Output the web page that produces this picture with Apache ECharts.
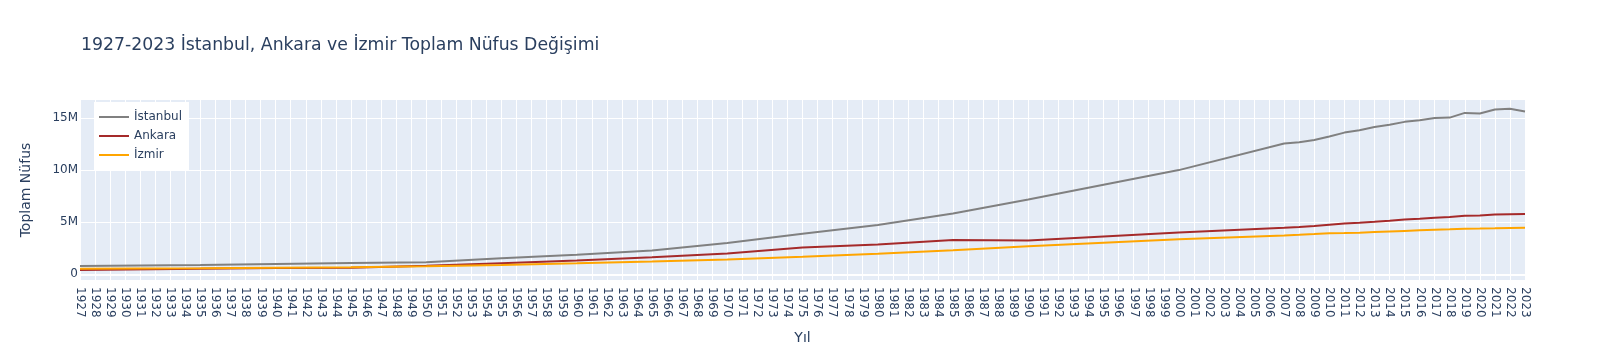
<!DOCTYPE html>
<html>
<head>
<meta charset="utf-8">
<script src="https://cdn.jsdelivr.net/npm/echarts@6/dist/echarts.min.js"></script>
<style>html,body{margin:0;padding:0;background:#fff}#c{width:1605px;height:360px}</style>
</head>
<body>
<div id="c"></div>
<script>
// Census / estimate years shown by the straight segments of the lines
const years = [1927,1935,1940,1945,1950,1955,1960,1965,1970,1975,1980,1985,1990,2000,
  2007,2008,2009,2010,2011,2012,2013,2014,2015,2016,2017,2018,2019,2020,2021,2022,2023];
const istanbul = [794000,884000,991000,1078000,1166000,1534000,1882000,2294000,3019000,3905000,4742000,5843000,7196000,10019000,
  12574000,12697000,12915000,13256000,13624000,13855000,14160000,14377000,14657000,14804000,15029000,15068000,15519000,15462000,15841000,15908000,15656000];
const ankara = [405000,530000,593000,634000,819000,1060000,1321000,1644000,1996000,2585000,2855000,3306000,3237000,4008000,
  4467000,4549000,4651000,4772000,4891000,4966000,5045000,5150000,5271000,5347000,5445000,5504000,5639000,5663000,5747000,5782000,5803000];
const izmir = [532000,577000,628000,676000,768000,894000,1063000,1235000,1427000,1674000,1977000,2318000,2695000,3371000,
  3739000,3796000,3868000,3949000,3965000,4005000,4061000,4113000,4168000,4224000,4280000,4321000,4367000,4395000,4426000,4462000,4480000];
const yTicks = [0, 5000000, 10000000, 15000000];
const seriesNames = ['İstanbul', 'Ankara', 'İzmir'];
const seriesColors = ['#808080', '#a52a2a', '#ffa500'];

const pairs = vals => years.map((y, i) => [y, vals[i]]);
const txt = '#2a3f5f';
const font = '"DejaVu Sans", Verdana, sans-serif';

const chart = echarts.init(document.getElementById('c'));
chart.setOption({
  animation: false,
  backgroundColor: '#ffffff',
  textStyle: { fontFamily: font },
  title: {
    text: '1927-2023 İstanbul, Ankara ve İzmir Toplam Nüfus Değişimi',
    left: 76, top: 32,
    textStyle: { color: txt, fontSize: 17.3, fontWeight: 'normal', fontFamily: font }
  },
  legend: {
    orient: 'vertical', left: 94, top: 102,
    backgroundColor: '#ffffff',
    padding: [7, 7, 7, 5],
    itemGap: 3, itemWidth: 30, itemHeight: 2, itemTextGap: 6,
    icon: 'rect',
    textStyle: { color: txt, fontSize: 12, lineHeight: 16, fontFamily: font },
    data: seriesNames
  },
  grid: { left: 80, right: 80, top: 100, bottom: 80, show: true, backgroundColor: '#E5ECF6', borderWidth: 0, containLabel: false },
  xAxis: {
    type: 'value', min: 1927, max: 2023, interval: 1,
    name: 'Yıl', nameLocation: 'middle', nameGap: 51,
    nameTextStyle: { color: txt, fontSize: 14, fontFamily: font },
    axisLine: { show: false }, axisTick: { show: false },
    axisLabel: { rotate: -90, color: txt, fontSize: 12, margin: 7, formatter: v => String(v), fontFamily: font },
    splitLine: { show: true, lineStyle: { color: '#ffffff', width: 1 } }
  },
  yAxis: {
    type: 'value', min: -550000, max: 16760000,
    name: 'Toplam Nüfus', nameLocation: 'middle', nameGap: 47,
    nameTextStyle: { color: txt, fontSize: 14, fontFamily: font },
    axisLine: { show: false },
    axisTick: { show: false, customValues: yTicks },
    axisLabel: { color: txt, fontSize: 12, margin: 2, customValues: yTicks, fontFamily: font,
      formatter: v => v === 0 ? '0' : (v / 1000000) + 'M' },
    splitLine: { show: true, lineStyle: { color: '#ffffff', width: 1 } }
  },
  series: [
    { name: seriesNames[0], type: 'line', data: pairs(istanbul), showSymbol: false, symbol: 'none',
      lineStyle: { color: seriesColors[0], width: 2 }, itemStyle: { color: seriesColors[0] },
      markLine: { silent: true, symbol: 'none', label: { show: false }, lineStyle: { color: '#ffffff', width: 2, type: 'solid' }, data: [{ yAxis: 0 }] } },
    { name: seriesNames[1], type: 'line', data: pairs(ankara), showSymbol: false, symbol: 'none',
      lineStyle: { color: seriesColors[1], width: 2 }, itemStyle: { color: seriesColors[1] } },
    { name: seriesNames[2], type: 'line', data: pairs(izmir), showSymbol: false, symbol: 'none',
      lineStyle: { color: seriesColors[2], width: 2 }, itemStyle: { color: seriesColors[2] } }
  ]
});
</script>
</body>
</html>
